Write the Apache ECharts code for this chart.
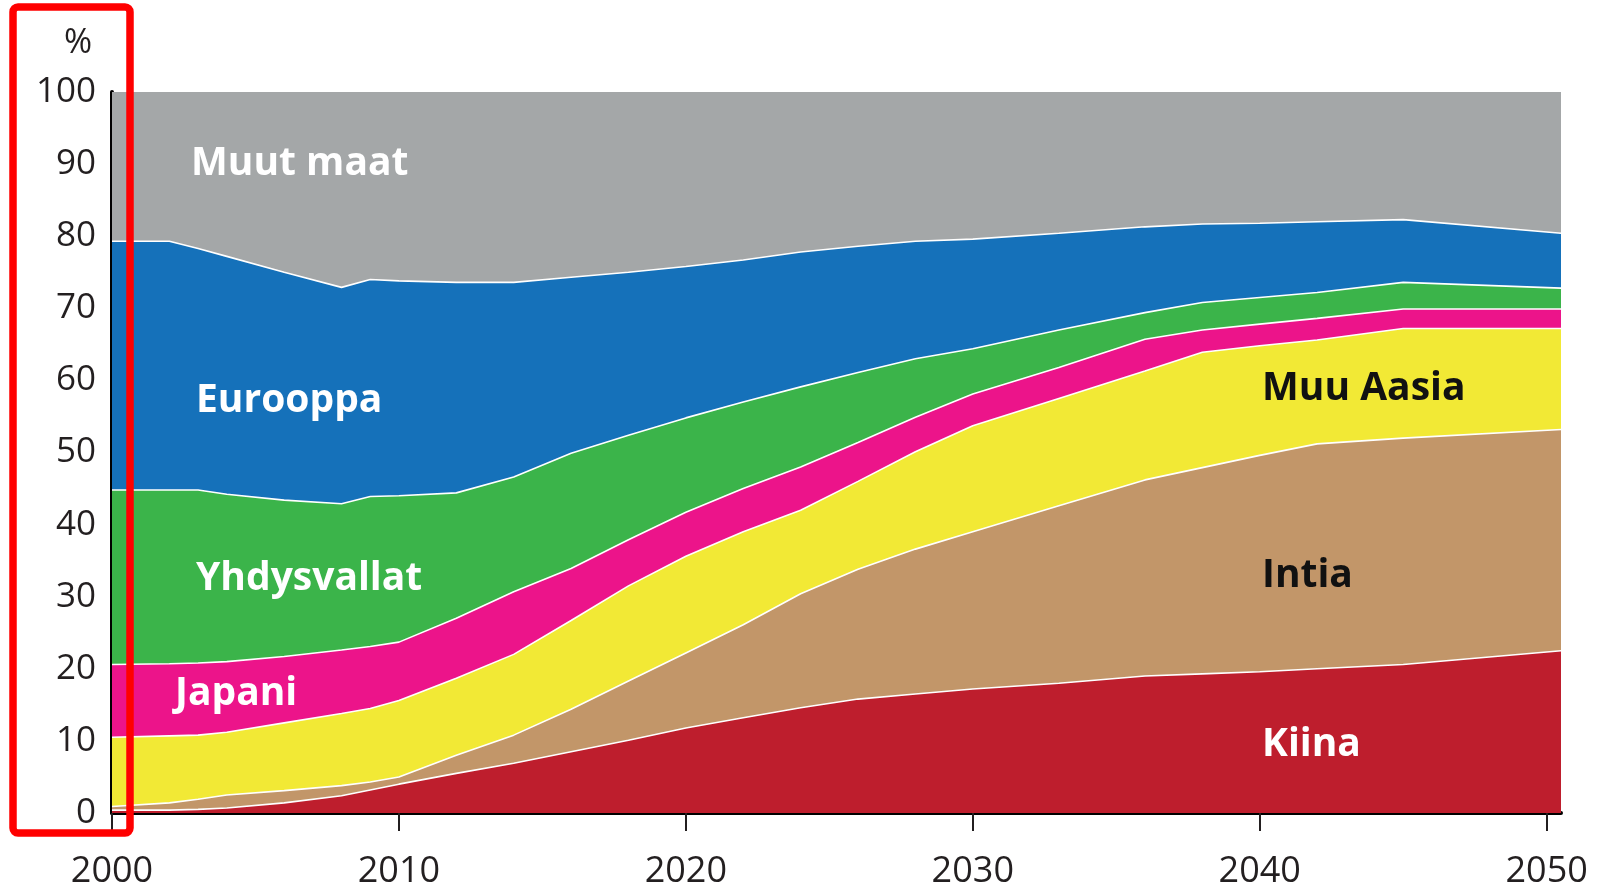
<!DOCTYPE html>
<html>
<head>
<meta charset="utf-8">
<script src="https://cdn.jsdelivr.net/npm/echarts@6/dist/echarts.min.js"></script>
<style>
html,body{margin:0;padding:0;background:#ffffff;}
#chart{width:1600px;height:886px;}
</style>
</head>
<body>
<div id="chart"></div>
<script>
// ---- data (percent shares) ----
const years = [2000, 2002, 2003, 2004, 2006, 2008, 2009, 2010, 2012, 2014, 2016, 2018, 2020, 2022, 2024, 2026, 2028, 2030, 2033, 2036, 2038, 2040, 2042, 2045, 2050.5];

const kiina       = [0.4, 0.4, 0.5, 0.7, 1.4, 2.4, 3.2, 4.0, 5.5, 6.9, 8.5, 10.1, 11.8, 13.2, 14.6, 15.8, 16.5, 17.2, 18.0, 19.0, 19.3, 19.6, 20.0, 20.6, 22.5];
const intia       = [0.5, 1.0, 1.4, 1.8, 1.7, 1.4, 1.1, 1.0, 2.5, 3.9, 5.9, 8.2, 10.4, 12.9, 15.8, 18.0, 20.1, 21.8, 24.6, 27.2, 28.6, 30.0, 31.2, 31.4, 30.7];
const muuAasia    = [9.6, 9.3, 8.9, 8.7, 9.4, 10.0, 10.2, 10.6, 10.7, 11.2, 12.3, 13.2, 13.4, 12.9, 11.6, 12.2, 13.5, 14.7, 14.9, 15.1, 16.0, 15.2, 14.4, 15.2, 14.0];
const japani      = [10.1, 10.0, 10.0, 9.8, 9.2, 8.8, 8.6, 8.1, 8.3, 8.7, 7.2, 6.4, 6.1, 6.0, 6.0, 5.4, 4.8, 4.4, 4.3, 4.4, 3.1, 3.0, 3.0, 2.7, 2.7];
const yhdysvallat = [24.2, 24.1, 24.0, 23.2, 21.7, 20.3, 20.8, 20.3, 17.4, 15.9, 16.0, 14.5, 13.1, 12.0, 11.1, 9.7, 8.1, 6.3, 5.2, 3.7, 3.8, 3.7, 3.6, 3.7, 2.9];
const eurooppa    = [34.5, 34.5, 33.5, 33.0, 31.6, 30.0, 30.1, 29.8, 29.2, 27.0, 24.4, 22.6, 21.0, 19.7, 18.7, 17.5, 16.3, 15.2, 13.4, 11.9, 10.9, 10.3, 9.8, 8.7, 7.6];
const muutMaat    = [20.7, 20.7, 21.7, 22.8, 25.0, 27.1, 26.0, 26.2, 26.4, 26.4, 25.7, 25.0, 24.2, 23.4, 22.5, 21.7, 21.0, 20.4, 19.6, 18.7, 18.3, 18.2, 18.0, 17.7, 19.6];

const seriesNames = ['Kiina', 'Intia', 'Muu Aasia', 'Japani', 'Yhdysvallat', 'Eurooppa', 'Muut maat'];
const xTickValues = [2000, 2010, 2020, 2030, 2040, 2050];

// ---- styles ----
const colors = ['#BE1E2D', '#C29669', '#F2E935', '#EC148A', '#3BB44A', '#1571BA', '#A4A7A8'];
const ink = '#231F20';
const font = '"Open Sans", "Noto Sans", sans-serif';

const valueSets = [kiina, intia, muuAasia, japani, yhdysvallat, eurooppa, muutMaat];

// stack the shares: running totals bottom -> top
const running = years.map(() => 0);
const stacked = valueSets.map(vals => vals.map((v, k) => (running[k] = +(running[k] + v).toFixed(3))));

const chart = echarts.init(document.getElementById('chart'), null, {renderer: 'canvas'});

// draw from the top layer down, each area filled to the axis; lower layers paint over
const series = [];
for (let i = valueSets.length - 1; i >= 0; i--) {
  series.push({
    name: seriesNames[i],
    type: 'line',
    symbol: 'none',
    showSymbol: false,
    smooth: false,
    silent: true,
    data: years.map((y, k) => [y, stacked[i][k]]),
    lineStyle: {color: '#ffffff', width: i === valueSets.length - 1 ? 0 : 1.6},
    itemStyle: {color: colors[i]},
    areaStyle: {color: colors[i], opacity: 1, origin: 'start'},
    z: 2
  });
}

function areaLabel(text, x, y, fill) {
  return {
    type: 'text', x: x, y: y, z: 100,
    style: {text: text, fill: fill, font: 'bold 39px ' + font, textVerticalAlign: 'middle', textAlign: 'left'}
  };
}

const option = {
  backgroundColor: '#ffffff',
  animation: false,
  grid: {left: 112, right: 39, top: 92, bottom: 73, containLabel: false, outerBoundsMode: 'none'},
  xAxis: {
    type: 'value',
    min: 2000,
    max: 2050.5,
    interval: 10,
    splitLine: {show: false},
    axisLine: {show: true, onZero: false, lineStyle: {color: '#000000', width: 4}},
    axisTick: {show: true, inside: false, length: 18, customValues: xTickValues, lineStyle: {color: ink, width: 2}},
    axisLabel: {show: true, customValues: xTickValues, margin: 41, fontSize: 36, color: ink, fontFamily: font,
      formatter: v => String(v)}
  },
  yAxis: {
    type: 'value',
    min: 0,
    max: 100,
    interval: 10,
    name: '%',
    nameLocation: 'end',
    nameGap: 32,
    nameTextStyle: {fontSize: 34, color: ink, fontFamily: font, align: 'right', padding: [0, 20, 0, 0]},
    splitLine: {show: false},
    axisTick: {show: false},
    axisLine: {show: true, lineStyle: {color: '#000000', width: 4}},
    axisLabel: {margin: 16, fontSize: 35, color: ink, fontFamily: font}
  },
  series: series,
  graphic: [
    areaLabel('Muut maat', 191, 164, '#ffffff'),
    areaLabel('Eurooppa', 196, 401, '#ffffff'),
    areaLabel('Yhdysvallat', 196, 579, '#ffffff'),
    areaLabel('Japani', 175, 694, '#ffffff'),
    areaLabel('Muu Aasia', 1262, 389, '#111111'),
    areaLabel('Intia', 1262, 576, '#111111'),
    areaLabel('Kiina', 1262, 745, '#ffffff'),
    {
      type: 'rect', z: 200,
      shape: {x: 13, y: 7, width: 117, height: 826, r: 5},
      style: {fill: 'none', stroke: '#FF0000', lineWidth: 7.5}
    }
  ]
};

chart.setOption(option);
</script>
</body>
</html>
